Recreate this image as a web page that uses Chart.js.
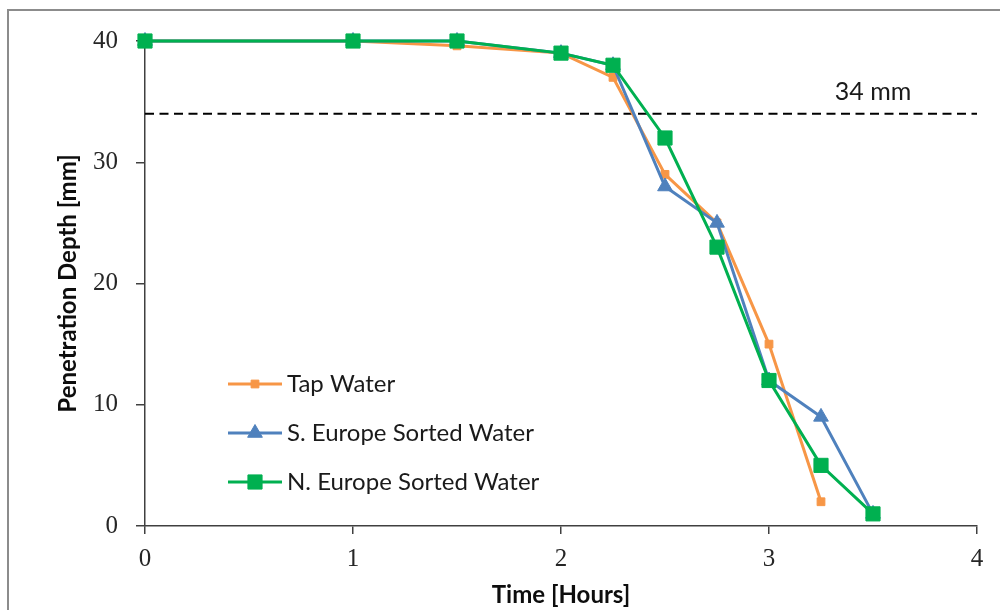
<!DOCTYPE html>
<html>
<head>
<meta charset="utf-8">
<script src="https://cdn.jsdelivr.net/npm/chart.js@4.4.0/dist/chart.umd.min.js"></script>
<style>
  html, body { margin: 0; padding: 0; background: #fff; }
  #wrap { width: 1000px; height: 610px; position: relative; }
</style>
</head>
<body>
<div id="wrap"><canvas id="depth"></canvas></div>
<script>
// time in hours, penetration depth in mm
const tapHours = [0, 1, 1.5, 2, 2.25, 2.5, 2.75, 3, 3.25];
const tapDepth = [40, 40, 39.6, 39, 37, 29, 25, 15, 2];

const southHours = [0, 1, 1.5, 2, 2.25, 2.5, 2.75, 3, 3.25, 3.5];
const southDepth = [40, 40, 40, 39, 38, 28, 25, 12, 9, 1];

const northHours = [0, 1, 1.5, 2, 2.25, 2.5, 2.75, 3, 3.25, 3.5];
const northDepth = [40, 40, 40, 39, 38, 32, 23, 12, 5, 1];

const limitDepth = 34;
const limitLabel = '34 mm';
const limitLabelAt = 3.5;

const xTicks = [0, 1, 2, 3, 4];
const yTicks = [0, 10, 20, 30, 40];

const seriesNames = ['Tap Water', 'S. Europe Sorted Water', 'N. Europe Sorted Water'];

const toPoints = (xs, ys) => xs.map((x, i) => ({ x: x, y: ys[i] }));

const SANS = 'Lato, "Liberation Sans", sans-serif';
const SERIF = '"Liberation Serif", serif';

const series = [
    { name: seriesNames[0], color: '#F79646', style: 'rect', radius: 5.5, data: toPoints(tapHours, tapDepth), order: 3 },
    { name: seriesNames[1], color: '#4F81BD', style: 'triangle', radius: 8.5, data: toPoints(southHours, southDepth), order: 2 },
    { name: seriesNames[2], color: '#00B050', style: 'rect', radius: 10, data: toPoints(northHours, northDepth), order: 1 }
];

// outer frame of the figure
const framePlugin = {
    id: 'frame',
    beforeDraw(chart) {
        const ctx = chart.ctx;
        ctx.save();
        ctx.fillStyle = '#fff';
        ctx.fillRect(0, 0, chart.width, chart.height);
        ctx.strokeStyle = '#8c8c8c';
        ctx.lineWidth = 2;
        ctx.strokeRect(8, 10, chart.width + 20, chart.height + 20);
        ctx.restore();
    }
};

// "34 mm" note and the legend inside the plot
const notesPlugin = {
    id: 'notes',
    afterDraw(chart) {
        const ctx = chart.ctx;
        const xs = chart.scales.x, ys = chart.scales.y;
        ctx.save();
        ctx.fillStyle = '#1a1a1a';
        ctx.font = '25px ' + SANS;
        ctx.textAlign = 'center';
        ctx.textBaseline = 'middle';
        ctx.fillText(limitLabel, xs.getPixelForValue(limitLabelAt), ys.getPixelForValue(limitDepth) - 22);

        ctx.font = '24px ' + SANS;
        const rowY = [384, 433, 482];
        series.forEach((s, i) => {
            const y = rowY[i];
            ctx.strokeStyle = s.color;
            ctx.lineWidth = 3;
            ctx.beginPath();
            ctx.moveTo(228, y);
            ctx.lineTo(282, y);
            ctx.stroke();
            ctx.fillStyle = s.color;
            ctx.lineWidth = 1;
            Chart.helpers.drawPoint(ctx, { pointStyle: s.style, radius: s.radius, borderWidth: 1, rotation: 0 }, 255, y);
            ctx.fillStyle = '#1a1a1a';
            ctx.textAlign = 'left';
            ctx.fillText(s.name, 287, y);
        });
        ctx.restore();
    }
};

const datasets = series.map(s => ({
    label: s.name,
    data: s.data,
    borderColor: s.color,
    backgroundColor: s.color,
    borderWidth: 3,
    pointStyle: s.style,
    pointRadius: s.radius,
    pointBorderWidth: 1,
    pointHoverRadius: s.radius,
    clip: false,
    order: s.order
}));

datasets.push({
    label: 'limit',
    data: [{ x: xTicks[0], y: limitDepth }, { x: xTicks[xTicks.length - 1], y: limitDepth }],
    borderColor: '#000',
    borderWidth: 2.2,
    borderDash: [9, 5.5],
    pointRadius: 0,
    order: 5
});

new Chart(document.getElementById('depth'), {
    type: 'line',
    data: { datasets: datasets },
    options: {
        responsive: true,
        maintainAspectRatio: false,
        animation: false,
        layout: { padding: { top: 41, right: 23, left: 0, bottom: 0 } },
        plugins: {
            legend: { display: false },
            tooltip: { enabled: false }
        },
        scales: {
            x: {
                type: 'linear',
                min: 0,
                max: 4,
                afterFit(scale) { scale.height = 84; },
                afterBuildTicks(scale) { scale.ticks = xTicks.map(v => ({ value: v })); },
                ticks: { color: '#262626', font: { family: SERIF, size: 25 }, padding: 10, maxRotation: 0 },
                grid: { drawOnChartArea: false, drawTicks: true, tickLength: 8, color: '#404040', lineWidth: 1.5 },
                border: { display: true, color: '#404040', width: 1.5 },
                title: {
                    display: true,
                    text: 'Time [Hours]',
                    color: '#0d0d0d',
                    font: { family: SANS, size: 24, weight: 'bold' },
                    padding: { top: 0, bottom: 0 }
                }
            },
            y: {
                min: 0,
                max: 40,
                afterFit(scale) { scale.width = 145; },
                afterBuildTicks(scale) { scale.ticks = yTicks.map(v => ({ value: v })); },
                ticks: { color: '#262626', font: { family: SERIF, size: 25 }, padding: 18 },
                grid: { drawOnChartArea: false, drawTicks: true, tickLength: 9, color: '#404040', lineWidth: 1.5 },
                border: { display: true, color: '#404040', width: 1.5 },
                title: {
                    display: true,
                    text: 'Penetration Depth [mm]',
                    color: '#0d0d0d',
                    font: { family: SANS, size: 24, weight: 'bold' },
                    padding: { top: 54, bottom: 0 }
                }
            }
        }
    },
    plugins: [framePlugin, notesPlugin]
});
</script>
</body>
</html>
